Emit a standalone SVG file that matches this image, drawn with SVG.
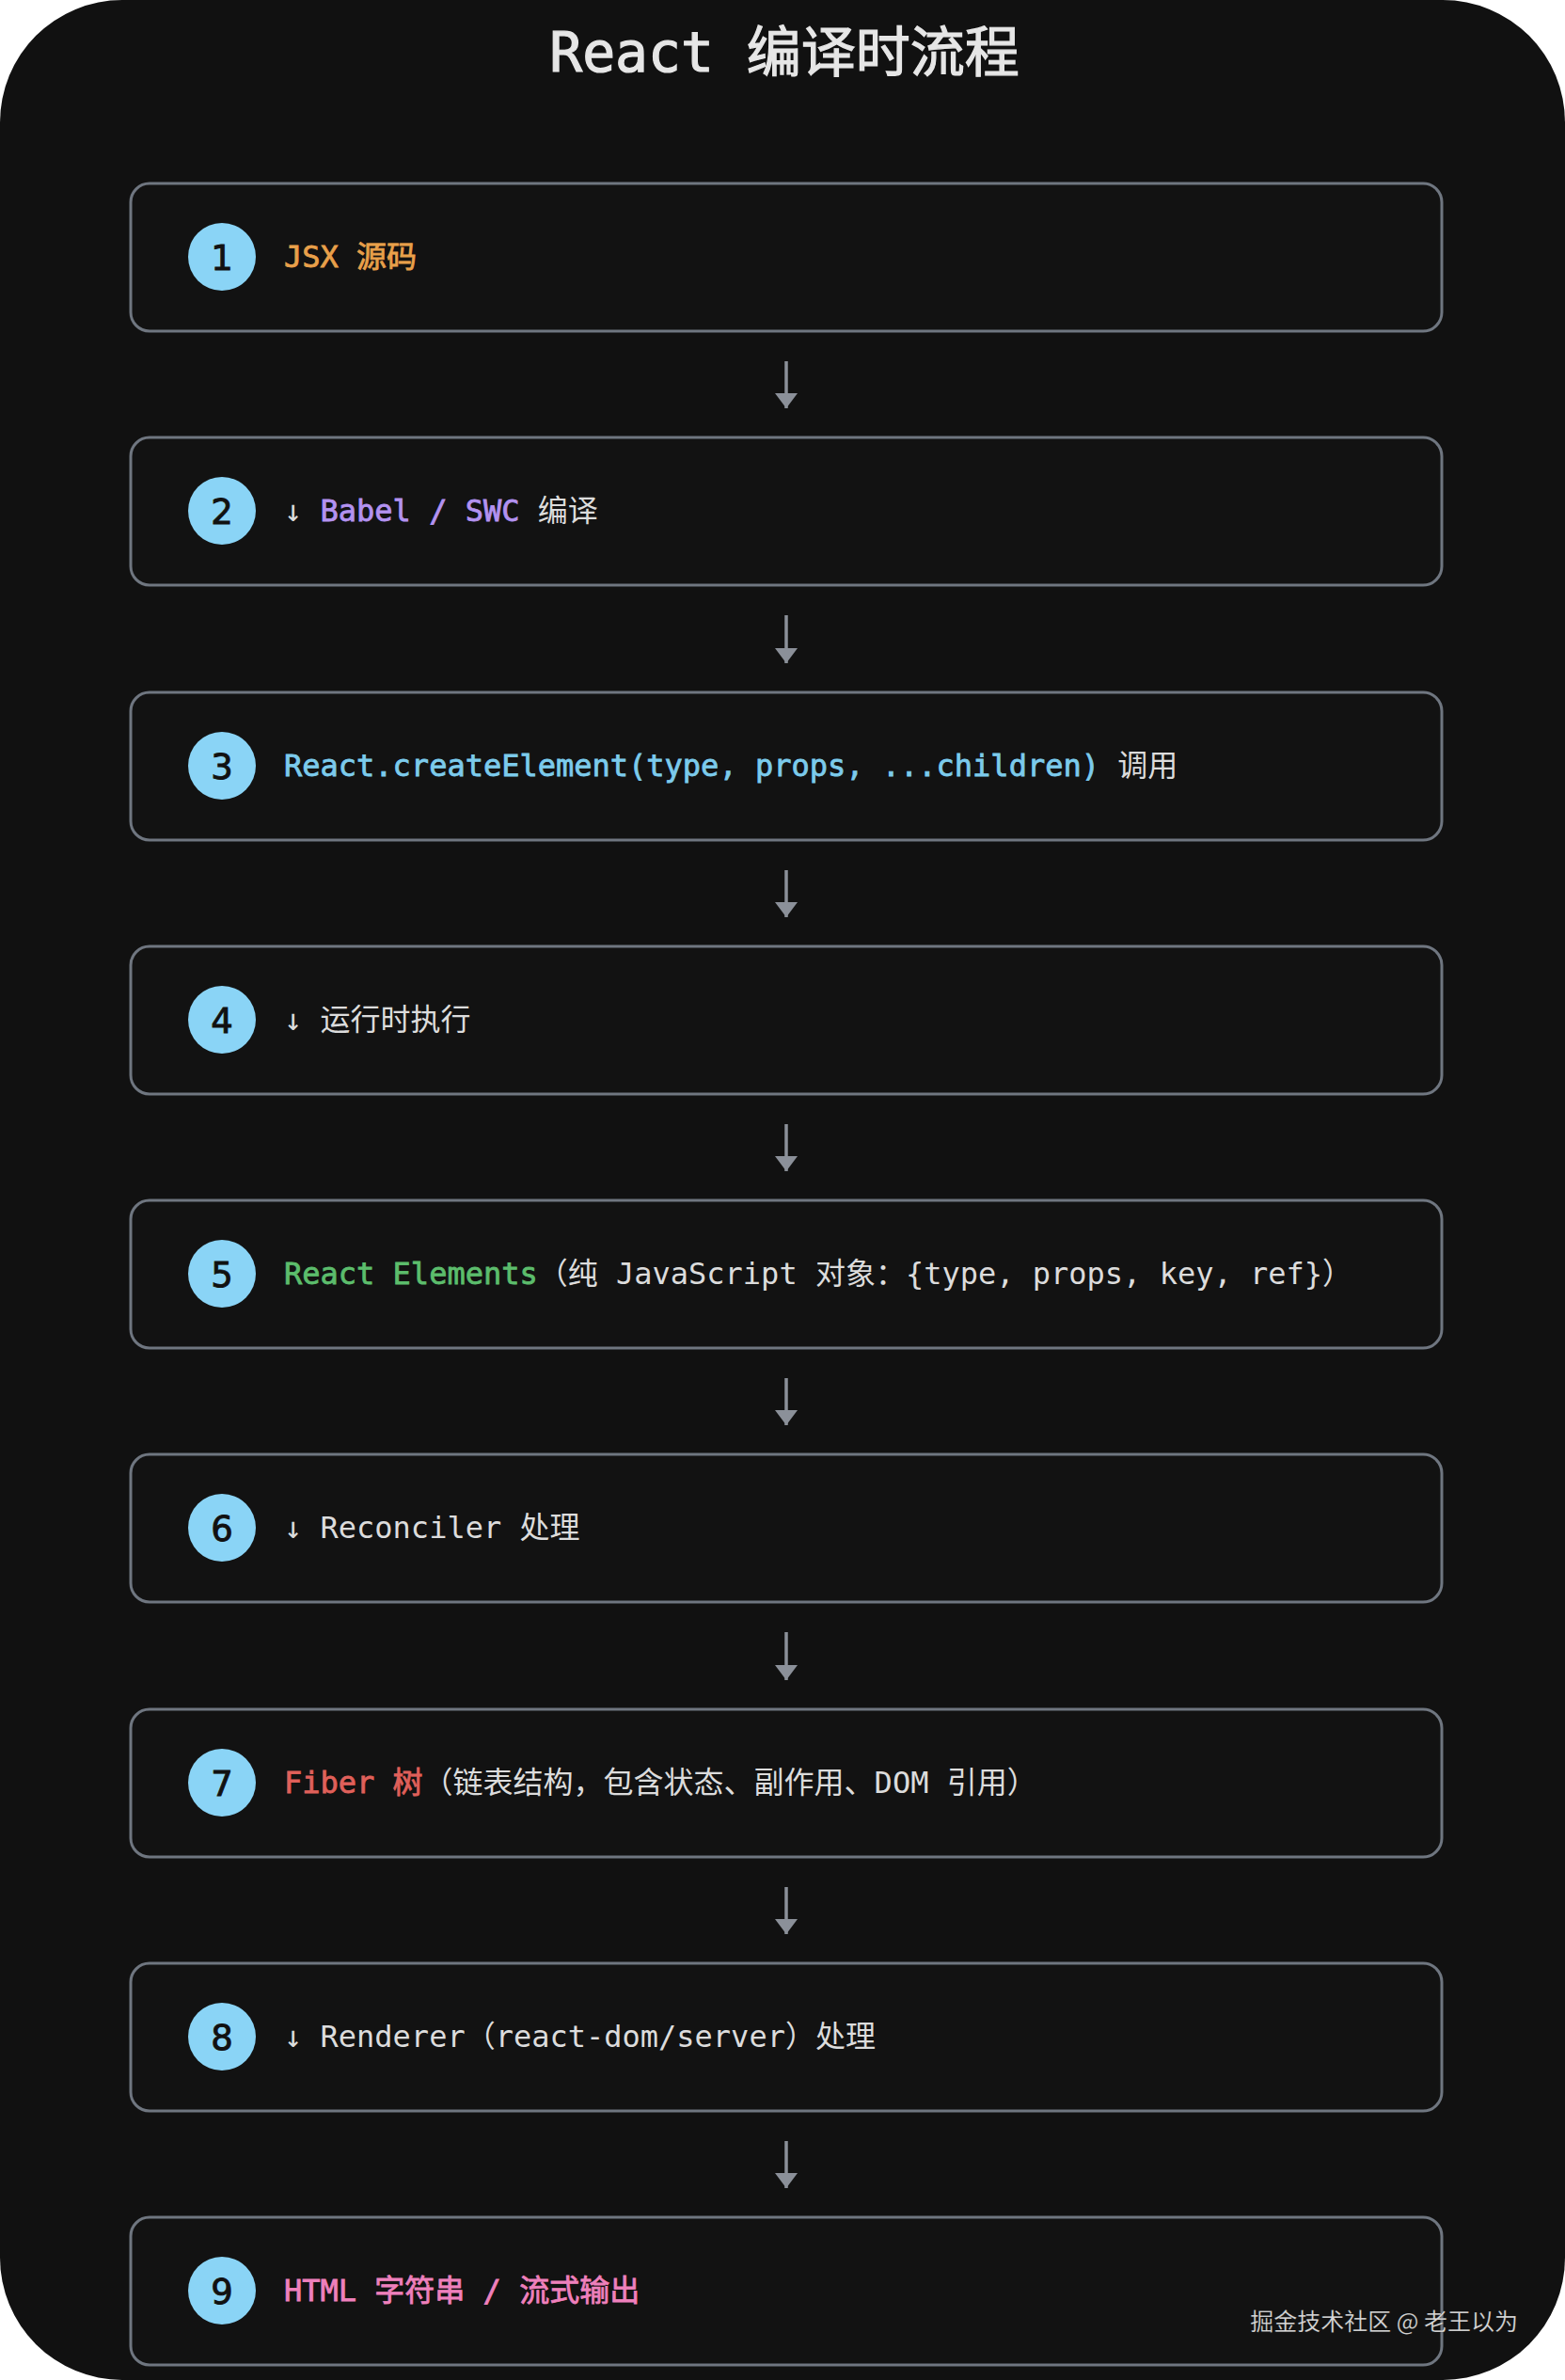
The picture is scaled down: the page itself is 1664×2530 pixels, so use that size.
<svg xmlns="http://www.w3.org/2000/svg" width="1664" height="2530" viewBox="0 0 1664 2530">
<defs>
<style>
.box{fill:#121212;stroke:#6f7680;stroke-width:3}
.dot{fill:#8ad4f6}
.num{font-family:"DejaVu Sans","Noto Sans",sans-serif;font-size:37px;fill:#111;stroke:#111;stroke-width:0.9;text-anchor:middle}
.lbl{font-family:"DejaVu Sans Mono","Noto Sans CJK SC",monospace;font-size:32px;fill:#dcdcdc}
.b{stroke-width:0.8}
.or{fill:#e9a04a;stroke:#e9a04a}.pu{fill:#b392f0;stroke:#b392f0}.bl{fill:#7ccbec;stroke:#7ccbec}.gr{fill:#5cbd6c;stroke:#5cbd6c}.rd{fill:#e0605a;stroke:#e0605a}.pk{fill:#ef80bc;stroke:#ef80bc}
.conn{stroke:#8b9099;stroke-width:3.5;fill:none}
</style>
<marker id="ah" markerUnits="userSpaceOnUse" markerWidth="16" markerHeight="24" refX="16" refY="12" orient="auto">
<path d="M0,0 L16,12 L0,24 z" fill="#8b9099"/>
</marker>
</defs>
<rect width="1664" height="2530" fill="#ffffff"/>
<rect x="0" y="0" width="1664" height="2530" rx="130" ry="130" fill="#111111"/>
<text x="834" y="76" font-family="DejaVu Sans Mono,'Noto Sans CJK SC',monospace" font-size="58" fill="#e6e6e6" stroke="#e6e6e6" stroke-width="1.2" text-anchor="middle" xml:space="preserve">React 编译时流程</text>

<g id="connectors">
<line class="conn" x1="836" y1="384" x2="836" y2="434" marker-end="url(#ah)"/>
<line class="conn" x1="836" y1="654" x2="836" y2="705" marker-end="url(#ah)"/>
<line class="conn" x1="836" y1="925" x2="836" y2="975" marker-end="url(#ah)"/>
<line class="conn" x1="836" y1="1195" x2="836" y2="1245" marker-end="url(#ah)"/>
<line class="conn" x1="836" y1="1465" x2="836" y2="1515" marker-end="url(#ah)"/>
<line class="conn" x1="836" y1="1735" x2="836" y2="1786" marker-end="url(#ah)"/>
<line class="conn" x1="836" y1="2006" x2="836" y2="2056" marker-end="url(#ah)"/>
<line class="conn" x1="836" y1="2276" x2="836" y2="2326" marker-end="url(#ah)"/>
</g>

<g id="node-1">
<rect class="box" x="139" y="195" width="1394" height="157" rx="20"/>
<circle class="dot" cx="236" cy="273" r="36"/>
<text class="num" x="236" y="287">1</text>
<text class="lbl" x="302" y="284" xml:space="preserve"><tspan class="or b">JSX 源码</tspan></text>
</g>
<g id="node-2">
<rect class="box" x="139" y="465" width="1394" height="157" rx="20"/>
<circle class="dot" cx="236" cy="543" r="36"/>
<text class="num" x="236" y="557">2</text>
<text class="lbl" x="302" y="554" xml:space="preserve">↓ <tspan class="pu b">Babel / SWC</tspan> 编译</text>
</g>
<g id="node-3">
<rect class="box" x="139" y="736" width="1394" height="157" rx="20"/>
<circle class="dot" cx="236" cy="814" r="36"/>
<text class="num" x="236" y="828">3</text>
<text class="lbl" x="302" y="825" xml:space="preserve"><tspan class="bl b">React.createElement(type, props, ...children)</tspan> 调用</text>
</g>
<g id="node-4">
<rect class="box" x="139" y="1006" width="1394" height="157" rx="20"/>
<circle class="dot" cx="236" cy="1084" r="36"/>
<text class="num" x="236" y="1098">4</text>
<text class="lbl" x="302" y="1095" xml:space="preserve">↓ 运行时执行</text>
</g>
<g id="node-5">
<rect class="box" x="139" y="1276" width="1394" height="157" rx="20"/>
<circle class="dot" cx="236" cy="1354" r="36"/>
<text class="num" x="236" y="1368">5</text>
<text class="lbl" x="302" y="1365" xml:space="preserve"><tspan class="gr b">React Elements</tspan>（纯 JavaScript 对象：{type, props, key, ref}）</text>
</g>
<g id="node-6">
<rect class="box" x="139" y="1546" width="1394" height="157" rx="20"/>
<circle class="dot" cx="236" cy="1624" r="36"/>
<text class="num" x="236" y="1638">6</text>
<text class="lbl" x="302" y="1635" xml:space="preserve">↓ Reconciler 处理</text>
</g>
<g id="node-7">
<rect class="box" x="139" y="1817" width="1394" height="157" rx="20"/>
<circle class="dot" cx="236" cy="1895" r="36"/>
<text class="num" x="236" y="1909">7</text>
<text class="lbl" x="302" y="1906" xml:space="preserve"><tspan class="rd b">Fiber 树</tspan>（链表结构，包含状态、副作用、DOM 引用）</text>
</g>
<g id="node-8">
<rect class="box" x="139" y="2087" width="1394" height="157" rx="20"/>
<circle class="dot" cx="236" cy="2165" r="36"/>
<text class="num" x="236" y="2179">8</text>
<text class="lbl" x="302" y="2176" xml:space="preserve">↓ Renderer（react-dom/server）处理</text>
</g>
<g id="node-9">
<rect class="box" x="139" y="2357" width="1394" height="157" rx="20"/>
<circle class="dot" cx="236" cy="2435" r="36"/>
<text class="num" x="236" y="2449">9</text>
<text class="lbl" x="302" y="2446" xml:space="preserve"><tspan class="pk b">HTML 字符串 / 流式输出</tspan></text>
</g>

<text x="1614" y="2477" font-family="'Noto Sans CJK SC','Noto Sans',sans-serif" font-size="25" fill="#dadada" text-anchor="end" stroke="#000" stroke-opacity="0.35" stroke-width="0.6">掘金技术社区 @ 老王以为</text>
</svg>
